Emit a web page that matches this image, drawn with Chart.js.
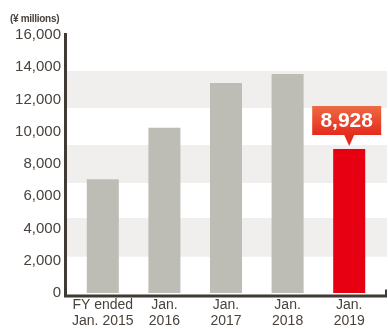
<!DOCTYPE html>
<html>
<head>
<meta charset="utf-8">
<script src="https://cdn.jsdelivr.net/npm/chart.js@4/dist/chart.umd.min.js"></script>
<style>
html,body{margin:0;padding:0;background:#fff;}
#wrap{position:relative;width:388px;height:329px;}
#unit{position:absolute;left:10px;top:13px;font:bold 10px "Liberation Sans",Arial,sans-serif;line-height:12px;color:#4a423c;letter-spacing:-0.3px;}
</style>
</head>
<body>
<div id="wrap"><canvas id="c" width="388" height="329"></canvas><div id="unit">(¥ millions)</div></div>
<script>
const categories = [["FY ended", "Jan. 2015"], ["Jan.", "2016"], ["Jan.", "2017"], ["Jan.", "2018"], ["Jan.", "2019"]];
const netSales = [7060, 10250, 13020, 13580, 8928];
const highlightIndex = 4;
const yTicks = [0, 2000, 4000, 6000, 8000, 10000, 12000, 14000, 16000];
const bandEdges = [2250, 4650, 6820, 9180, 11470, 13770];

const barColors = netSales.map((v, i) => i === highlightIndex ? '#e60012' : '#bebdb5');

const decorPlugin = {
  id: 'decor',
  beforeDatasetsDraw(chart) {
    const {ctx, chartArea, scales: {y}} = chart;
    const x0 = chartArea.left - 8, x1 = chartArea.right + 7;
    ctx.save();
    ctx.fillStyle = '#f1efed';
    for (let i = 0; i + 1 < bandEdges.length; i += 2) {
      const ya = y.getPixelForValue(bandEdges[i]);
      const yb = y.getPixelForValue(bandEdges[i + 1]);
      ctx.fillRect(x0, yb, x1 - x0, ya - yb);
    }
    ctx.restore();
  },
  afterDatasetsDraw(chart) {
    const {ctx, chartArea, scales: {y}} = chart;
    const x0 = chartArea.left - 8, x1 = chartArea.right + 7;
    const yBase = y.getPixelForValue(0) + 1.5;
    ctx.save();
    ctx.strokeStyle = '#3f3a34';
    ctx.lineWidth = 3;
    ctx.beginPath();
    ctx.moveTo(x0 + 1.5, y.getPixelForValue(16000) - 2);
    ctx.lineTo(x0 + 1.5, yBase + 1.5);
    ctx.lineTo(x1, yBase + 1.5);
    ctx.stroke();
    ctx.lineWidth = 2;
    ctx.beginPath();
    ctx.moveTo(x1 - 1, yBase + 1.5);
    ctx.lineTo(x1 - 1, yBase - 5);
    ctx.stroke();

    // callout
    const meta = chart.getDatasetMeta(0);
    const bar = meta.data[highlightIndex];
    const cx = bar.x;
    const top = bar.y;
    const tip = top - 3;
    const bBottom = tip - 11;
    const bTop = bBottom - 29;
    const bLeft = cx - 37, bRight = cx + 32;
    const g = ctx.createLinearGradient(0, bTop, 0, bBottom);
    g.addColorStop(0, '#ee6a42');
    g.addColorStop(1, '#e42a1c');
    ctx.fillStyle = g;
    ctx.beginPath();
    ctx.moveTo(bLeft, bTop);
    ctx.lineTo(bRight, bTop);
    ctx.lineTo(bRight, bBottom);
    ctx.lineTo(cx + 5, bBottom);
    ctx.lineTo(cx, tip);
    ctx.lineTo(cx - 5, bBottom);
    ctx.lineTo(bLeft, bBottom);
    ctx.closePath();
    ctx.fill();
    ctx.fillStyle = '#ffffff';
    ctx.font = 'bold 21px "Liberation Sans", Arial, sans-serif';
    ctx.textAlign = 'center';
    ctx.textBaseline = 'middle';
    ctx.fillText(netSales[highlightIndex].toLocaleString('en-US'), (bLeft + bRight) / 2, (bTop + bBottom) / 2 + 1);
    ctx.restore();
  }
};

new Chart(document.getElementById('c'), {
  type: 'bar',
  data: {
    labels: categories,
    datasets: [{
      data: netSales,
      backgroundColor: barColors,
      borderWidth: 0,
      barPercentage: 0.52,
      categoryPercentage: 1.0
    }]
  },
  options: {
    responsive: false,
    animation: false,
    devicePixelRatio: 1,
    layout: {padding: {top: 35, right: 8, left: 0, bottom: 0}},
    plugins: {legend: {display: false}, tooltip: {enabled: false}},
    scales: {
      x: {
        grid: {display: false, drawTicks: false},
        border: {display: false},
        ticks: {
          color: '#4a423c',
          padding: 5,
          font: {family: '"Liberation Sans", Arial, sans-serif', size: 14, lineHeight: 1.08},
          maxRotation: 0, autoSkip: false
        },
        afterFit(scale) { scale.height = 36; }
      },
      y: {
        min: 0, max: 16000,
        afterBuildTicks(scale) { scale.ticks = yTicks.map(v => ({value: v})); },
        grid: {display: false, drawTicks: false},
        border: {display: false},
        ticks: {
          color: '#4a423c',
          padding: 11,
          font: {family: '"Liberation Sans", Arial, sans-serif', size: 15},
          callback: v => v.toLocaleString('en-US')
        },
        afterFit(scale) { scale.width = 72; }
      }
    }
  },
  plugins: [decorPlugin]
});
</script>
</body>
</html>
